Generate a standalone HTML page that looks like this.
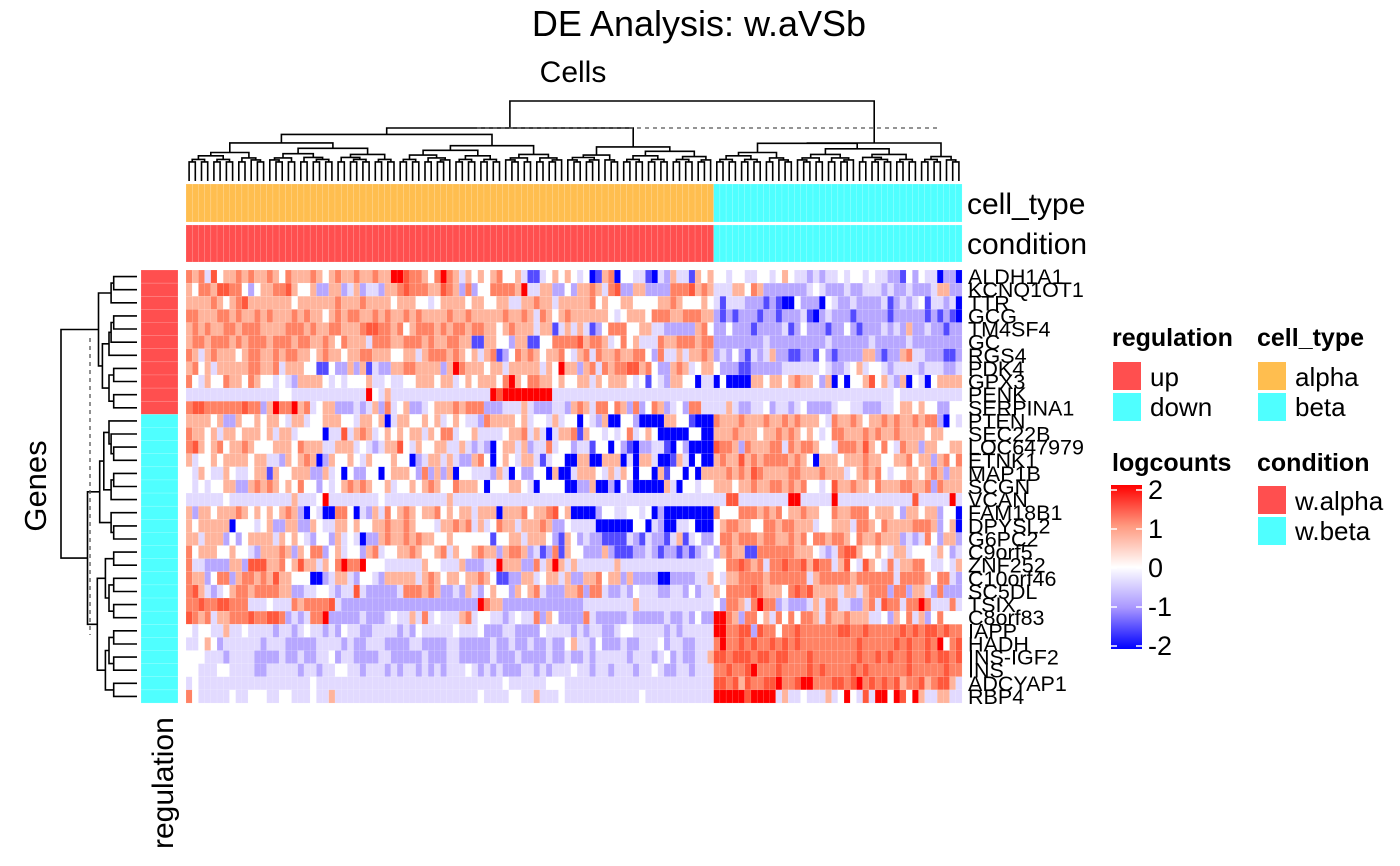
<!DOCTYPE html>
<html><head><meta charset="utf-8"><style>
html,body{margin:0;padding:0;background:#fff;}
svg{display:block;font-family:"Liberation Sans",sans-serif;}
</style></head><body>
<svg id="chart" width="1400" height="866" viewBox="0 0 1400 866" xmlns="http://www.w3.org/2000/svg">
<text x="699" y="36" font-size="36" text-anchor="middle">DE Analysis: w.aVSb</text>
<text x="573" y="82" font-size="30" text-anchor="middle">Cells</text>
<text transform="translate(46,486) rotate(-90)" font-size="31" text-anchor="middle">Genes</text>
<text transform="translate(173,849) rotate(-90)" font-size="30">regulation</text>
<text x="967" y="214" font-size="30">cell_type</text>
<text x="967" y="254" font-size="30">condition</text>
<g id="g-col-dend"></g>
<g id="g-row-dend"></g>
<g id="g-annot"></g>
<g id="g-reg"></g>
<g id="g-cells"></g>
<g id="g-labels"></g>
<g>
<text x="1112" y="346" font-size="25" font-weight="bold">regulation</text>
<rect x="1113" y="362" width="28" height="28" fill="#ff4f4f"/>
<rect x="1113" y="393" width="28" height="28" fill="#4fffff"/>
<text x="1150" y="386" font-size="26">up</text>
<text x="1150" y="416" font-size="26">down</text>
</g>
<g>
<text x="1257" y="346" font-size="25" font-weight="bold">cell_type</text>
<rect x="1258" y="362" width="28" height="28" fill="#ffbe4f"/>
<rect x="1258" y="393" width="28" height="28" fill="#4fffff"/>
<text x="1295" y="386" font-size="26">alpha</text>
<text x="1295" y="416" font-size="26">beta</text>
</g>
<g>
<text x="1257" y="471" font-size="25" font-weight="bold">condition</text>
<rect x="1258" y="486" width="28" height="28" fill="#ff4f4f"/>
<rect x="1258" y="517" width="28" height="28" fill="#4fffff"/>
<text x="1295" y="510" font-size="26">w.alpha</text>
<text x="1295" y="540" font-size="26">w.beta</text>
</g>
<g id="g-cbar">
<text x="1112" y="471" font-size="25" font-weight="bold">logcounts</text>
<defs><linearGradient id="cg" x1="0" y1="1" x2="0" y2="0">
<stop offset="0" stop-color="#0000ff"/><stop offset="0.25" stop-color="#a896ff"/><stop offset="0.5" stop-color="#ffffff"/><stop offset="0.75" stop-color="#ff9a80"/><stop offset="1" stop-color="#ff0000"/></linearGradient></defs>
<rect x="1111" y="485" width="31" height="164" fill="url(#cg)"/>
</g>
</svg>
<script>
const genes=["ALDH1A1","KCNQ1OT1","TTR","GCG","TM4SF4","GC","RGS4","PDK4","GPX3","PENK","SERPINA1","PTEN","SEC22B","LOC647979","ETNK1","MAP1B","SCGN","VCAN","FAM18B1","DPYSL2","G6PC2","C9orf5","ZNF252","C10orf46","SC5DL","TSIX","C8orf83","IAPP","HADH","INS-IGF2","INS","ADCYAP1","RBP4"];
const regulation=["up","up","up","up","up","up","up","up","up","up","up","down","down","down","down","down","down","down","down","down","down","down","down","down","down","down","down","down","down","down","down","down","down"];
const nAlpha=85, nBeta=40;
const alphaRows=[
"6563745565655654655565456556556558876654686535454564453113454"+"543401560443310325331545",
"546657766424556675445225523523325567666557652624466665833552242"+"55653672255222266675"+"65",
"5555654567555555545555556555655554555443455554554455335565535"+"55"+"5564544554444556544454",
"6655566565565655565655456566556565565655556556555556556536545655555543455546665566655",
"5656556656665555666565566555677665645666565665665545655"+"535513535312466644553322222564",
"56656665656665666566556546555366655666565566551155442551144"+"66667566534645333655666566",
"6535655545665565665545655455665554455356665654535612465654556435"+"636556556642633535565",
"5645355555665563555441142252513225566555525865554553555553548"+"5"+"525636566775642256534558",
"6435446554654434325555434344453343344555455345455546854665545"+"44553545554341432554403",
"333333333333333443333333333338435333333333333333387888888883333333333333333333333333",
"6776666667662586685634552223235263452234555656662223335322233"+"25653664652624652342663",
"5555452254454554355344555443554503554454534543326555545344353"+"4"+"404325004420000554410",
"6554535545554535534444033735653454545535466344533334556353035561"+"5443434634540000044002",
"6754564556544455546555335553432355743544553353232045535233634"+"423314404210223310420",
"5344545555455332545650254454354445440235535322564045435531344"+"00550055503055300153040",
"4354335433455154455522534042244045554262525044333253042244050"+"03555435354044051440405",
"4343445522565654546442434565654453445456544655540444554304"+"44400225002042000005304434",
"3333334333333333353334"+"8"+"33333333"+"4"+"3333333333"+"5"+"333333333333333333333333333333333333333333",
"525545556545454565204300664032536456545564545535550555645567450"+"000244334434020000000",
"5455555044434522552254335545445565565444355656353465535556522"+"4333300000044032003340",
"5535552424555535454324425343022565565655445444444144553555421"+"542322111132132213513422",
"6455544544325556525466245344256344556544563544565525665231261"+"544222521112232122121234",
"6332222552777556457553546866844433333354433352223385552263585353"+"3333353333333333333335",
"6552466256656575544400235532443255555356545545565411225534553522"+"556455252222002222335",
"6753234566566665522334432337322222366656522325324544254563222"+"556266322324333223324233",
"6676677666333433365666673222222222222222222222286552222222222222"+"33333333533333333333332",
"765635566676677623236682222232223433536343335634433234336254"+"22"+"2263222223222223223242",
"4344335334333323323433232433223333232433333433342223322224333"+"32323322344333332323333",
"3345423333332333222223333232233322223322223322222322322322322"+"4533242223223334233223",
"444333233332222322322334233222233222223222332222232223222232"+"2"+"322323333323332342322335",
"4433344333322333332332334433233323233232323334323232223323233"+"3433233233323343223323",
"3433333333333333333343333333333333333333333333333334333333444"+"33"+"333333333333333333333333",
"6433333433444334433343353333333333333333333333343333443353334"+"3"+"33333333333433333333333"
];
const betaRows=[
"4434433443454332323343443433221424330220",
"3335546522222223432223223332322322235522",
"3133322212100422204322322223123234133230",
"2121222122122231023222122222122222121210",
"2242221222231242221224212223232522322122",
"2222222232222222223222222322222322222222",
"2324213235221122142122225521225633222112",
"4222112222233333343223453443233332333223",
"0400005545545655425040445745325043045555",
"3333333333333333333333333333343333333333",
"3353223342332342222344332223345545442244",
"6555655565565655543655654556565565662043",
"5556555455656545434665556565565555455444",
"7665265556636566544366657546436552554455",
"5655756566665654055545556554455645525646",
"5565657655556655565553456564344554565255",
"5554556556656564434755655465556655626555",
"3377333333338833333833333333333373333383",
"6444666565645565544655666455542554552440",
"4566554466566555344555366546555566652450",
"4665666566556564665665465565552323642552",
"2565511666666555432367754454355344435423",
"4466765636676675766357437543635566433435",
"4355666656666663566666566666636666546632",
"5466667655546767555535535666266255326222",
"4266536866232223536633225637663668633363",
"8865266453646466536556555334254635246444",
"8866772766466766666677667666667676776766",
"6866767667676766666666676666676766768467",
"7767776776776667666666676676766766767767",
"6676678666766667676666767666666766666766",
"7767576677866788666776786767675667567753",
"8888878888353343335348437388487485335533"
];
const colorbar=[2,1,0,-1,-2];
const levelValues=[-2,-1.5,-0.85,-0.4,0,0.5,1,1.5,2];
const NS="http://www.w3.org/2000/svg";
const HX0=186,HX1=962,HY0=270,HY1=703;
const nCol=nAlpha+nBeta, nRow=genes.length;
const cw=(HX1-HX0)/nCol, rh=(HY1-HY0)/nRow;
function xCol(i){return HX0+i*cw;}
function yRow(r){return HY0+r*rh;}
function mk(tag,attrs,parent){const e=document.createElementNS(NS,tag);for(const k in attrs)e.setAttribute(k,attrs[k]);parent.appendChild(e);return e;}
const stops=[[-2,[0,0,255]],[-1,[168,150,255]],[-0.4,[226,218,255]],[0,[255,255,255]],[0.5,[255,180,156]],[1,[255,130,100]],[1.5,[255,88,60]],[2,[255,0,0]]];
function col(v){v=Math.max(-2,Math.min(2,v));for(let i=0;i<stops.length-1;i++){const a=stops[i],b=stops[i+1];if(v<=b[0]){const t=(v-a[0])/(b[0]-a[0]);const c=a[1].map((x,j)=>Math.round(x+(b[1][j]-x)*t));return`rgb(${c[0]},${c[1]},${c[2]})`;}}return"rgb(255,0,0)";}
function fit(s,n){s=s.slice(0,n);while(s.length<n)s+=s[s.length-1];return s;}
const gCells=document.getElementById('g-cells');
for(let r=0;r<nRow;r++){
  const s=fit(alphaRows[r],nAlpha)+fit(betaRows[r],nBeta);
  for(let c=0;c<nCol;c++){
    const v=levelValues[+s[c]];
    const e=mk('rect',{x:xCol(c).toFixed(2),y:yRow(r).toFixed(2),width:(cw+0.05).toFixed(2),height:(rh+0.05).toFixed(2),fill:col(v),stroke:'#ffffff','stroke-opacity':'0.25','stroke-width':'0.4'},gCells);
    
    
  }
}
const gL=document.getElementById('g-labels');
genes.forEach((g,r)=>{const t=mk('text',{x:968,y:(yRow(r)+rh/2+7.5).toFixed(1),'font-size':'21.5'},gL);t.textContent=g;
  
  });
const gR=document.getElementById('g-reg');
regulation.forEach((u,r)=>{const e=mk('rect',{x:141,y:yRow(r).toFixed(2),width:37,height:(rh+0.05).toFixed(2),fill:u==='up'?'#ff4f4f':'#4fffff',stroke:'#fff','stroke-opacity':'0.3','stroke-width':'0.5'},gR);
  
  });
const gA=document.getElementById('g-annot');
for(let c=0;c<nCol;c++){
  const a=c<nAlpha;
  const e1=mk('rect',{x:xCol(c).toFixed(2),y:184,width:(cw+0.05).toFixed(2),height:38,fill:a?'#ffbe4f':'#4fffff',stroke:'#fff','stroke-opacity':'0.3','stroke-width':'0.5'},gA);
  
  
  const e2=mk('rect',{x:xCol(c).toFixed(2),y:225,width:(cw+0.05).toFixed(2),height:37,fill:a?'#ff4f4f':'#4fffff',stroke:'#fff','stroke-opacity':'0.3','stroke-width':'0.5'},gA);
  
  
}
const gC=document.getElementById('g-cbar');
colorbar.forEach(v=>{const y=485+ (2-v)/4*156+5;
  const l=mk('line',{x1:1111,x2:1117,y1:y,y2:y,stroke:'#fff','stroke-width':1.5},gC);
  
  
  const l2=mk('line',{x1:1136,x2:1142,y1:y,y2:y,stroke:'#fff','stroke-width':1.5},gC);
  
  
  const t=mk('text',{x:1148,y:y+9,'font-size':'27'},gC);t.textContent=v<0?'-'+Math.abs(v):String(v);
  
  });
const gD=document.getElementById('g-col-dend');
const LEAFY=181;
function cy(n){return LEAFY-(13+4.3*Math.sqrt(n));}
function drawU(g,x1,y1,x2,y2,y,vert){
  const d=vert?`M${x1.toFixed(1)},${y1.toFixed(1)}V${y.toFixed(1)}H${x2.toFixed(1)}V${y2.toFixed(1)}`:`M${y1.toFixed(1)},${x1.toFixed(1)}H${y.toFixed(1)}V${x2.toFixed(1)}H${y2.toFixed(1)}`;
  const p=mk('path',{d:d,fill:'none',stroke:'#000','stroke-width':'1.6'},g);
  
  
}
function colTree(a,b,depth,fTop,yTop){
  const n=b-a;
  if(n===1)return{x:xCol(a)+cw/2,y:LEAFY};
  const f=fTop||[0.45,0.55,0.38,0.62,0.5][depth%5];
  let m=a+Math.max(1,Math.min(n-1,Math.round(n*f)));
  const L=colTree(a,m,depth+1),R=colTree(m,b,depth+2);
  const y=yTop||Math.min(cy(n),L.y-2,R.y-2);
  drawU(gD,L.x,L.y,R.x,R.y,y,true);
  return{x:(L.x+R.x)/2,y:y};
}
const A=colTree(0,nAlpha,0,0.72,128), B=colTree(nAlpha,nCol,1,0.83,143);
drawU(gD,A.x,A.y,B.x,B.y,101,true);
const dl=mk('line',{x1:477,x2:940,y1:128,y2:128,stroke:'#555','stroke-width':1.3,'stroke-dasharray':'4,4'},gD);


const gRD=document.getElementById('g-row-dend');
const LEAFX=137;
function rx(n){return LEAFX-(12+8*Math.sqrt(n));}
function rowTree(a,b,depth){
  const n=b-a;
  if(n===1)return{x:yRow(a)+rh/2,y:LEAFX};
  const f=[0.3,0.6,0.45,0.7,0.5][depth%5];
  let m=a+Math.max(1,Math.min(n-1,Math.round(n*f)));
  const L=rowTree(a,m,depth+1),R=rowTree(m,b,depth+2);
  const y=Math.min(rx(n),L.y-2,R.y-2);
  drawU(gRD,L.x,L.y,R.x,R.y,y,false);
  return{x:(L.x+R.x)/2,y:y};
}
const U=rowTree(0,11,0), D=rowTree(11,nRow,2);
drawU(gRD,U.x,U.y,D.x,D.y,61,false);
const dl2=mk('line',{x1:90,x2:90,y1:338,y2:635,stroke:'#555','stroke-width':1.3,'stroke-dasharray':'4,4'},gRD);


</script>
</body></html>
